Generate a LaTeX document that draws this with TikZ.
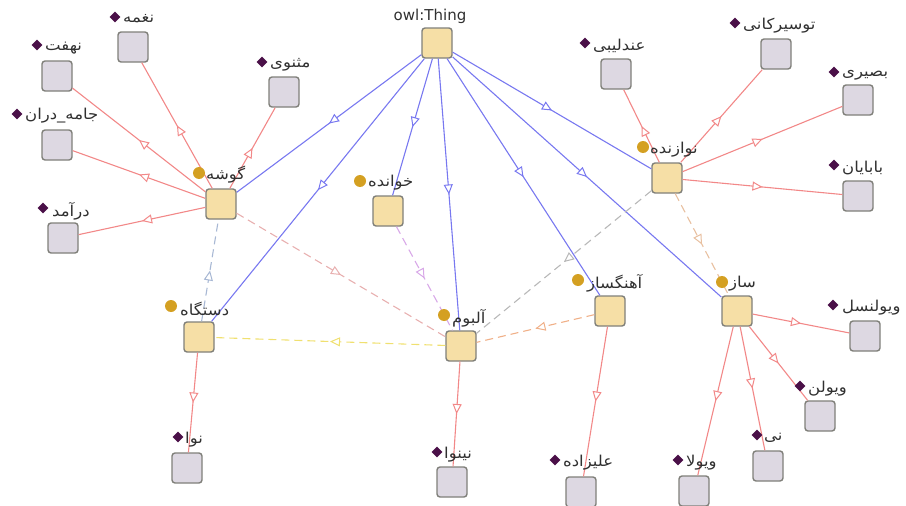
\documentclass[tikz,border=0pt]{standalone}
\usepackage{fontspec}
\setmainfont{DejaVu Sans}
\newfontfamily\fa[Script=Arabic,FakeStretch=1.1]{DejaVu Sans}
\TeXXeTstate=1
\usetikzlibrary{arrows.meta,decorations.markings,shapes.geometric}
\newcommand{\prs}[1]{{\fa\beginR #1\endR}}
\definecolor{boxborder}{HTML}{80807A}
\definecolor{clsfill}{HTML}{F6DFA6}
\definecolor{indfill}{HTML}{DDD8E2}
\definecolor{dotgold}{HTML}{D4A022}
\definecolor{diapurple}{HTML}{4A1048}
\definecolor{isablue}{HTML}{7878F0}
\definecolor{relred}{HTML}{F28888}
\definecolor{dsteel}{HTML}{A8B8D4}
\definecolor{dpink}{HTML}{E8B0B0}
\definecolor{dviolet}{HTML}{D8A8E8}
\definecolor{dyellow}{HTML}{F0E070}
\definecolor{dgray}{HTML}{B8B8B8}
\definecolor{dorange}{HTML}{F0B088}
\definecolor{dtan}{HTML}{E8C0A0}
\definecolor{lbltext}{HTML}{303030}
\tikzset{
  cls/.style={draw=boxborder, fill=clsfill, rounded corners=3pt, minimum size=30pt, inner sep=0pt, line width=1.4pt},
  ind/.style={draw=boxborder, fill=indfill, rounded corners=3pt, minimum size=30pt, inner sep=0pt, line width=1.4pt},
  dotm/.style={circle, fill=dotgold, minimum size=12pt, inner sep=0pt},
  diam/.style={diamond, fill=diapurple, minimum size=11pt, inner sep=0pt},
  lbl/.style={anchor=west, inner sep=0pt, text=lbltext, font=\fontsize{15}{17}\selectfont},
  midarrow/.style={postaction={decorate, decoration={markings,
     mark=at position 0.5 with {\arrow[solid,line width=1pt]{Triangle[open,fill=white,length=10pt,width=9pt]}}}}},
  isa/.style={draw=isablue, line width=1.1pt, midarrow},
  rel/.style={draw=relred, line width=1.1pt, midarrow},
  dsh/.style={draw=#1, line width=1.1pt, dash pattern=on 8pt off 5pt, midarrow},
}
\begin{document}
\begin{tikzpicture}[x=1pt,y=-1pt]
\useasboundingbox (0,0) rectangle (906,506);
% ---- class boxes
\node[cls] (thing) at (437,43) {};
\node[cls] (gushe) at (221,204) {};
\node[cls] (navazande) at (667,178) {};
\node[cls] (khanande) at (388,211) {};
\node[cls] (dastgah) at (199,337) {};
\node[cls] (album) at (461,346) {};
\node[cls] (ahangsaz) at (610,311) {};
\node[cls] (saz) at (737,311) {};
% ---- individual boxes
\node[ind] (naghme) at (133,47) {};
\node[ind] (nahoft) at (57,76) {};
\node[ind] (masnavi) at (284,92) {};
\node[ind] (jame) at (57,145) {};
\node[ind] (daramad) at (63,238) {};
\node[ind] (andalibi) at (616,74) {};
\node[ind] (tuserkani) at (776,54) {};
\node[ind] (basiri) at (858,100) {};
\node[ind] (babayan) at (858,196) {};
\node[ind] (nava) at (187,468) {};
\node[ind] (neynava) at (452,482) {};
\node[ind] (alizade) at (581,492) {};
\node[ind] (violoncel) at (865,336) {};
\node[ind] (violon) at (820,416) {};
\node[ind] (ney) at (768,466) {};
\node[ind] (viola) at (694,491) {};
% ---- subclass edges
\draw[isa] (thing) -- (gushe);
\draw[isa] (thing) -- (dastgah);
\draw[isa] (thing) -- (khanande);
\draw[isa] (thing) -- (album);
\draw[isa] (thing) -- (ahangsaz);
\draw[isa] (thing) -- (saz);
\draw[isa] (thing) -- (navazande);
% ---- instance edges
\draw[rel] (gushe) -- (naghme);
\draw[rel] (gushe) -- (nahoft);
\draw[rel] (gushe) -- (masnavi);
\draw[rel] (gushe) -- (jame);
\draw[rel] (gushe) -- (daramad);
\draw[rel] (navazande) -- (andalibi);
\draw[rel] (navazande) -- (tuserkani);
\draw[rel] (navazande) -- (basiri);
\draw[rel] (navazande) -- (babayan);
\draw[rel] (dastgah) -- (nava);
\draw[rel] (album) -- (neynava);
\draw[rel] (ahangsaz) -- (alizade);
\draw[rel] (saz) -- (violoncel);
\draw[rel] (saz) -- (violon);
\draw[rel] (saz) -- (ney);
\draw[rel] (saz) -- (viola);
% ---- dashed property edges
\draw[dsh=dsteel] (dastgah) -- (gushe);
\draw[dsh=dpink] (gushe) -- (album);
\draw[dsh=dviolet] (khanande) -- (album);
\draw[dsh=dyellow] (album) -- (dastgah);
\draw[dsh=dgray] (navazande) -- (album);
\draw[dsh=dorange] (ahangsaz) -- (album);
\draw[dsh=dtan] (navazande) -- (saz);
% ---- markers
\node[dotm] (gusheM) at (199,173) {};
\node[dotm] (navazandeM) at (643,147) {};
\node[dotm] (khanandeM) at (360,181) {};
\node[dotm] (dastgahM) at (171,306) {};
\node[dotm] (albumM) at (444,315) {};
\node[dotm] (ahangsazM) at (578,280) {};
\node[dotm] (sazM) at (722,282) {};
\node[diam] (naghmeM) at (115,17) {};
\node[diam] (nahoftM) at (37,45) {};
\node[diam] (masnaviM) at (262,62) {};
\node[diam] (jameM) at (17,114) {};
\node[diam] (daramadM) at (43,208) {};
\node[diam] (andalibiM) at (585,43) {};
\node[diam] (tuserkaniM) at (735,23) {};
\node[diam] (basiriM) at (834,72) {};
\node[diam] (babayanM) at (834,165) {};
\node[diam] (navaM) at (178,437) {};
\node[diam] (neynavaM) at (437,452) {};
\node[diam] (alizadeM) at (555,460) {};
\node[diam] (violoncelM) at (833,305) {};
\node[diam] (violonM) at (800,386) {};
\node[diam] (neyM) at (757,435) {};
\node[diam] (violaM) at (678,460) {};
% ---- labels
\node[lbl, anchor=center] (thingL) at (430,16) {owl:Thing};
\node[lbl] (gusheL) at (206,175) {\prs{گوشه}};
\node[lbl] (navazandeL) at (650,150) {\prs{نوازنده}};
\node[lbl] (khanandeL) at (368,183) {\prs{خوانده}};
\node[lbl] (dastgahL) at (180,309) {\prs{دستگاه}};
\node[lbl] (albumL) at (452,318) {\prs{آلبوم}};
\node[lbl] (ahangsazL) at (587,283) {\prs{آهنگساز}};
\node[lbl] (sazL) at (729,284) {\prs{ساز}};
\node[lbl] (naghmeL) at (123,19) {\prs{نغمه}};
\node[lbl] (nahoftL) at (45,48) {\prs{نهفت}};
\node[lbl] (masnaviL) at (270,65) {\prs{مثنوی}};
\node[lbl] (jameL) at (25,116) {\prs{جامه\_دران}};
\node[lbl] (daramadL) at (52,211) {\prs{درآمد}};
\node[lbl] (andalibiL) at (593,46) {\prs{عندلیبی}};
\node[lbl] (tuserkaniL) at (743,26) {\prs{توسیرکانی}};
\node[lbl] (basiriL) at (842,75) {\prs{بصیری}};
\node[lbl] (babayanL) at (842,168) {\prs{بابایان}};
\node[lbl] (navaL) at (185,440) {\prs{نوا}};
\node[lbl] (neynavaL) at (444,455) {\prs{نینوا}};
\node[lbl] (alizadeL) at (563,463) {\prs{علیزاده}};
\node[lbl] (violoncelL) at (842,308) {\prs{ویولنسل}};
\node[lbl] (violonL) at (808,389) {\prs{ویولن}};
\node[lbl] (neyL) at (764,438) {\prs{نی}};
\node[lbl] (violaL) at (686,463) {\prs{ویولا}};
\end{tikzpicture}
\end{document}
